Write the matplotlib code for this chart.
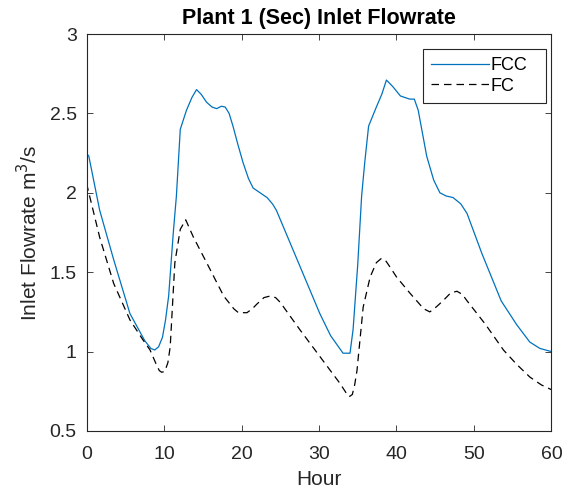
import matplotlib
matplotlib.use("Agg")
import matplotlib.pyplot as plt

plt.rcParams['font.family'] = ['Liberation Sans', 'DejaVu Sans']

# values (hour, flowrate)
fcc_hour = [0, 0.3, 1.7, 3.5, 5.6, 7.5, 8.3, 8.8, 9.3, 9.8, 10.2, 10.6, 11.2, 11.6,
            12.1, 12.9, 13.6, 14.2, 14.8, 15.5, 16.2, 16.8, 17.4, 17.9, 18.4,
            18.9, 19.5, 20.2, 20.9, 21.5, 22.4, 23.3, 24.0, 24.5, 27.0, 30.1,
            31.5, 33.1, 34.0, 34.4, 35.0, 35.5, 35.9, 36.4, 37.4, 38.1, 38.7,
            39.5, 40.5, 41.7, 42.3, 42.8, 43.9, 44.8, 45.6, 46.4, 47.3, 48.3,
            49.1, 51.0, 53.5, 55.5, 57.2, 58.5, 60]
fcc_flow = [2.25, 2.23, 1.89, 1.58, 1.24, 1.07, 1.02, 1.01, 1.03, 1.09, 1.20, 1.35,
            1.75, 1.98, 2.40, 2.52, 2.60, 2.65, 2.62, 2.57, 2.54, 2.53, 2.545, 2.54,
            2.50, 2.42, 2.31, 2.19, 2.09, 2.03, 2.00, 1.97, 1.93, 1.89, 1.60, 1.24,
            1.10, 0.99, 0.99, 1.14, 1.55, 1.98, 2.19, 2.42, 2.54, 2.62, 2.71,
            2.67, 2.61, 2.59, 2.59, 2.52, 2.23, 2.08, 2.00, 1.98, 1.97, 1.93,
            1.87, 1.62, 1.32, 1.17, 1.06, 1.02, 1.00]

fc_hour = [0, 1.7, 3.5, 5.6, 7.2, 8.2, 9.0, 9.4, 9.7, 10.1, 10.5, 10.8, 11.4,
           12.1, 12.8, 13.8, 15.5, 17.7, 19.0, 19.6, 20.7, 21.4, 22.0, 22.9,
           23.7, 24.4, 25.0, 27.5, 30.1, 32.7, 33.5, 33.9, 34.3, 34.6, 34.9,
           35.7, 36.6, 37.4, 38.0, 38.5, 39.2, 40.0, 41.7, 43.5, 44.3, 45.1,
           46.0, 47.0, 47.8, 48.5, 49.1, 51.5, 53.8, 55.5, 57.2, 58.7, 60]
fc_flow = [2.06, 1.72, 1.43, 1.20, 1.08, 1.01, 0.92, 0.88, 0.87, 0.875, 0.93, 1.03,
           1.56, 1.77, 1.83, 1.72, 1.56, 1.35, 1.27, 1.245, 1.245, 1.27, 1.30,
           1.34, 1.35, 1.34, 1.31, 1.14, 0.97, 0.80, 0.74, 0.716, 0.73, 0.79,
           0.88, 1.28, 1.47, 1.56, 1.585, 1.58, 1.53, 1.47, 1.37, 1.27, 1.25,
           1.28, 1.32, 1.37, 1.38, 1.36, 1.32, 1.17, 1.01, 0.92, 0.84, 0.79, 0.76]

fig = plt.figure(figsize=(5.79, 4.95), dpi=100)
ax = fig.add_axes([0.1494, 0.1293, 0.8031, 0.802])

ax.plot(fcc_hour, fcc_flow, color=(0, 0.447, 0.741), lw=0.9, label='FCC')
ax.plot(fc_hour, fc_flow, color='black', lw=0.9, ls=(0, (6, 4)), label='FC')

ax.set_xlim(0, 60)
ax.set_ylim(0.5, 3)
ax.set_xticks([0, 10, 20, 30, 40, 50, 60])
ax.set_yticks([0.5, 1, 1.5, 2, 2.5, 3])
ax.set_yticklabels(['0.5', '1', '1.5', '2', '2.5', '3'])
ax.tick_params(direction='in', top=True, right=True, labelsize=14,
               length=4, width=0.6, colors='#262626')
ax.tick_params(axis='x', pad=11)
ax.tick_params(axis='y', pad=7)
for s in ax.spines.values():
    s.set_linewidth(0.8)
    s.set_color('#262626')

ax.set_xlabel('Hour', fontsize=15, color='#262626', labelpad=5)
ax.set_ylabel('Inlet Flowrate m$^3$/s', fontsize=15, color='#262626', labelpad=6)
ax.set_title('Plant 1 (Sec) Inlet Flowrate', fontsize=15.5, fontweight='bold', pad=7)

# matlab-like legend box, wider than its content
leg = ax.legend(loc='upper left', mode='expand',
                bbox_to_anchor=(422.7 / 579, 1 - 103 / 495, 123.3 / 579, 54 / 495),
                bbox_transform=fig.transFigure, fontsize=13, fancybox=False,
                framealpha=1, edgecolor='#262626', handlelength=3.2,
                borderaxespad=0, handletextpad=0.12, borderpad=0.45,
                labelspacing=0.2)
leg.get_frame().set_linewidth(0.8)

fig.savefig('out.png', dpi=100)
